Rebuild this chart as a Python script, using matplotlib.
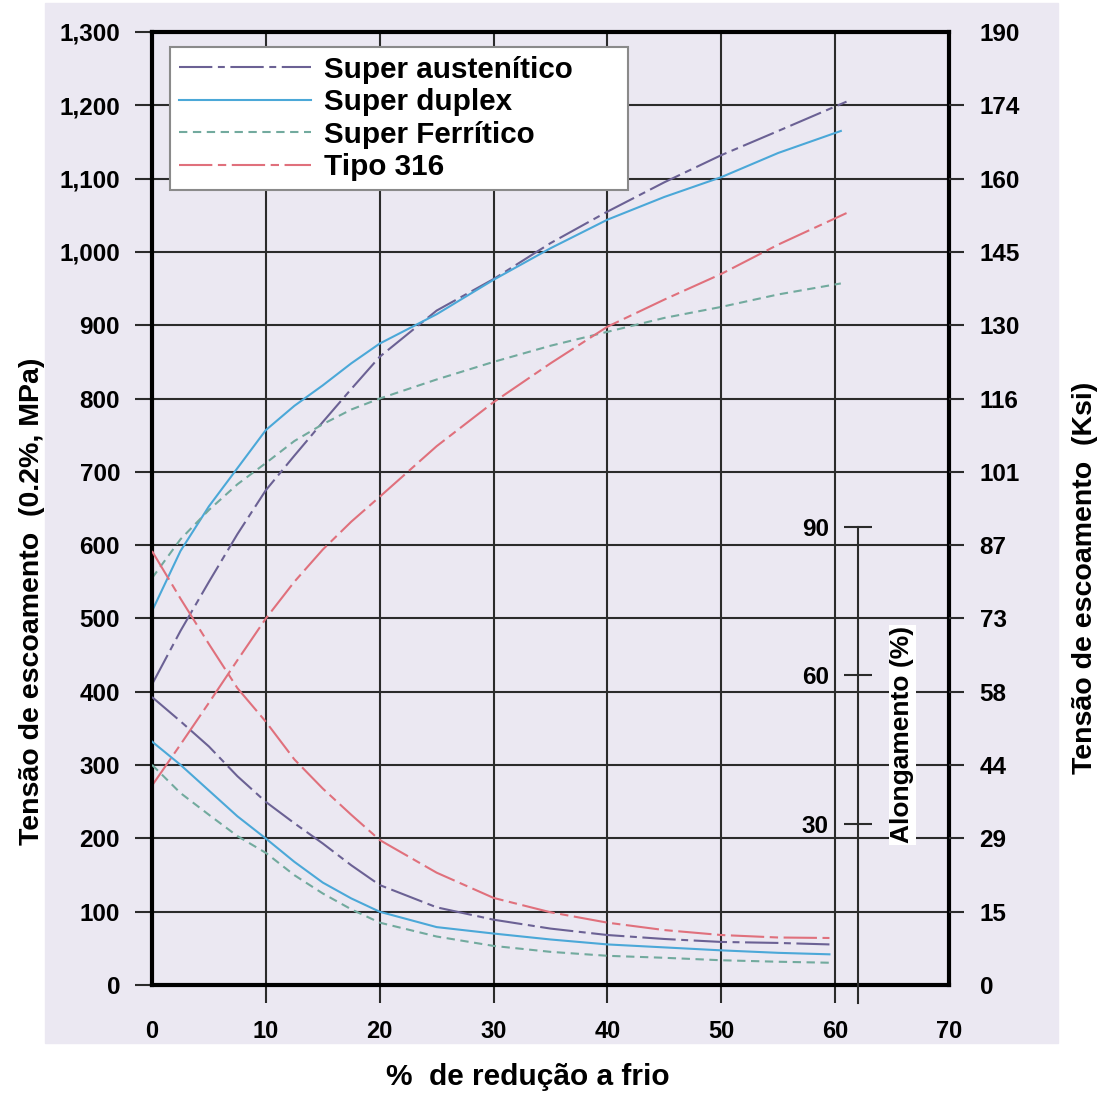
import matplotlib
matplotlib.use("Agg")
import matplotlib.pyplot as plt
from matplotlib.patches import Rectangle

plt.rcParams["font.family"] = ["Liberation Sans", "DejaVu Sans"]
plt.rcParams["font.weight"] = "bold"
plt.rcParams["lines.scale_dashes"] = False

# % de redução a frio
reducao_a = [0, 2.5, 5, 7.5, 10, 12.5, 15, 17.5, 20, 25, 30, 35, 40, 45, 50, 55, 61]
reducao_b = [0, 2.5, 5, 7.5, 10, 12.5, 15, 17.5, 20, 25, 30, 35, 40, 45, 50, 55, 60.5]
reducao_al = [0, 2.5, 5, 7.5, 10, 12.5, 15, 17.5, 20, 25, 30, 35, 40, 45, 50, 55, 59.5]

# tensão de escoamento (MPa)
esc_austenitico = [410, 483, 550, 615, 675, 722, 768, 813, 857, 920, 963, 1012, 1055, 1095, 1132, 1165, 1205]
esc_duplex = [510, 592, 653, 705, 757, 790, 818, 848, 875, 915, 962, 1005, 1044, 1075, 1102, 1135, 1165]
esc_ferritico = [555, 608, 648, 683, 712, 742, 765, 785, 800, 826, 850, 872, 891, 910, 925, 942, 957]
esc_316 = [272, 328, 385, 443, 500, 550, 594, 632, 666, 735, 795, 848, 898, 935, 970, 1010, 1053]

# alongamento (%)
al_austenitico = [55.6, 50.7, 45.6, 39.6, 34.4, 30.1, 26.0, 21.6, 17.6, 13.1, 10.6, 8.8, 7.5, 6.7, 6.1, 5.9, 5.6]
al_duplex = [46.6, 41.9, 36.7, 31.5, 27.0, 22.3, 18.1, 14.9, 12.2, 9.1, 7.8, 6.6, 5.6, 5.0, 4.4, 3.9, 3.6]
al_ferritico = [41.9, 36.2, 31.8, 27.5, 24.1, 19.6, 15.9, 12.7, 10.0, 7.2, 5.3, 4.1, 3.3, 2.9, 2.4, 2.1, 1.9]
al_316 = [85.1, 75.5, 66.3, 57.4, 50.6, 43.0, 37.1, 31.8, 26.7, 20.1, 15.0, 12.1, 10.0, 8.5, 7.5, 7.0, 6.9]

nomes = ["Super austenítico", "Super duplex", "Super Ferrítico", "Tipo 316"]

mpa_ticks = list(range(0, 1301, 100))
ksi_labels = ["0", "15", "29", "44", "58", "73", "87", "101", "116", "130", "145", "160", "174", "190"]
red_ticks = list(range(0, 71, 10))
al_ticks = [30, 60, 90]
al_lim = (-2.6, 190.0)
al_eixo_x = 62.0

FUNDO = "#ebe8f2"
GRADE = "#2b2b2b"
estilos = [
    dict(color="#6b6194", dashes=(24, 4, 5, 4)),
    dict(color="#4ba8d8"),
    dict(color="#72aa9e", dashes=(6, 4)),
    dict(color="#e0707c", dashes=(24, 4, 6, 4)),
]

fig = plt.figure(figsize=(11.04, 10.93), dpi=100)
fig.patches.append(Rectangle((45 / 1104, 1 - 1043 / 1093), 1013 / 1104, 1040 / 1093,
                             transform=fig.transFigure, color=FUNDO, zorder=-5))
ax = fig.add_axes([152 / 1104, 1 - 985 / 1093, 797 / 1104, 953 / 1093])
ax.set_facecolor(FUNDO)

ax.set_xlim(0, 70)
ax.set_ylim(0, 1300)
ax.set_xticks(red_ticks)
ax.set_yticks(mpa_ticks, [f"{v:,}" for v in mpa_ticks])
ax.grid(True, color=GRADE, lw=1.5)
ax.set_axisbelow(True)
ax.tick_params(axis="x", length=13, width=1.5, color=GRADE, pad=12, labelsize=17)
ax.tick_params(axis="y", length=12, width=1.5, color=GRADE, pad=11, labelsize=17.5)
for t in (ax.xaxis.get_major_ticks()[0], ax.xaxis.get_major_ticks()[-1],
          ax.yaxis.get_major_ticks()[0], ax.yaxis.get_major_ticks()[-1]):
    t.tick1line.set_visible(False)
for s in ax.spines.values():
    s.set_linewidth(3)
    s.set_color("black")

# escoamento
linhas = []
for x, y, nome, st in zip([reducao_a, reducao_b, reducao_b, reducao_a],
                          [esc_austenitico, esc_duplex, esc_ferritico, esc_316],
                          nomes, estilos):
    ln, = ax.plot(x, y, lw=1.5, label=nome, **st)
    linhas.append(ln)

# eixo Ksi
ax_k = ax.twinx()
ax_k.set_ylim(ax.get_ylim())
ax_k.set_yticks(mpa_ticks, ksi_labels)
ax_k.tick_params(axis="y", length=11, width=1.5, color=GRADE, pad=11, labelsize=17.5)
ax_k.yaxis.get_major_ticks()[0].tick2line.set_visible(False)
ax_k.yaxis.get_major_ticks()[-1].tick2line.set_visible(False)
for s in ax_k.spines.values():
    s.set_visible(False)

# alongamento, com eixo interno
ax_al = ax.twinx()
ax_al.set_ylim(*al_lim)
for s in ax_al.spines.values():
    s.set_visible(False)
ax_al.spines["left"].set_visible(True)
ax_al.spines["left"].set_position(("data", al_eixo_x))
ax_al.spines["left"].set_bounds(-6.2, 90)
ax_al.spines["left"].set_linewidth(1.5)
ax_al.spines["left"].set_color(GRADE)
ax_al.yaxis.set_ticks_position("left")
ax_al.set_yticks(al_ticks)
ax_al.tick_params(axis="y", direction="inout", length=20, width=1.5, color=GRADE,
                  pad=11, labelsize=17.5)
for y, st in zip([al_austenitico, al_duplex, al_ferritico, al_316], estilos):
    ax_al.plot(reducao_al, y, lw=1.5, **st)
ax_al.text(al_eixo_x + 3.9, 48, "Alongamento (%)", rotation=90, ha="center", va="center",
           fontsize=19, bbox=dict(facecolor="white", edgecolor="none", pad=1))

leg = ax.legend(handles=linhas, loc="upper left", bbox_to_anchor=(0.0226, 0.5, 0.5747, 0.4843),
                mode="expand", fontsize=21.3, handlelength=4.46, handletextpad=0.44,
                borderpad=0.3, labelspacing=0.15, borderaxespad=0, fancybox=False,
                framealpha=1, facecolor="white", edgecolor="#8a8a8a")
leg.get_frame().set_linewidth(1.5)

fig.text(528 / 1104, 1 - 1077 / 1093, "%  de redução a frio", ha="center", va="center", fontsize=21.5)
fig.text(32 / 1104, 1 - 601 / 1093, "Tensão de escoamento  (0.2%, MPa)", rotation=90,
         ha="center", va="center", fontsize=20.5)
fig.text(1085 / 1104, 1 - 578 / 1093, "Tensão de escoamento  (Ksi)", rotation=90,
         ha="center", va="center", fontsize=20.5)

fig.savefig("out.png", dpi=100)
